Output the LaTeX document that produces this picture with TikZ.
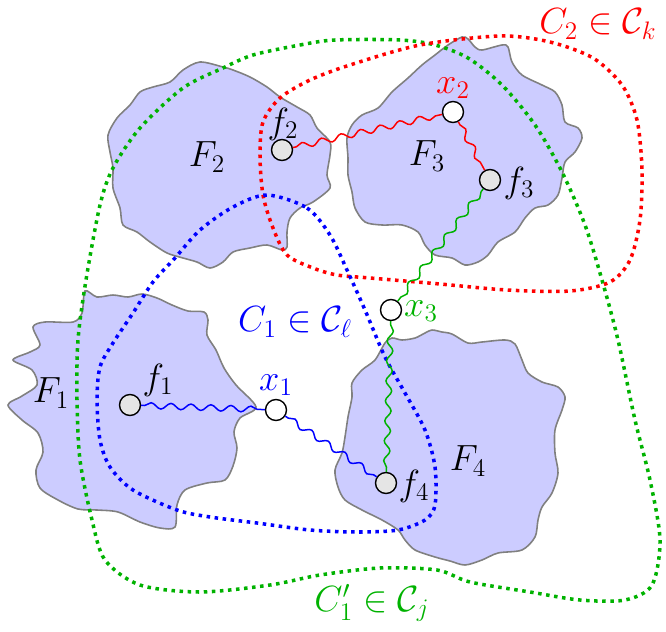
\documentclass[tikz,border=0pt]{standalone}
\usetikzlibrary{decorations.pathmorphing}
\definecolor{blobfill}{RGB}{204,204,255}
\definecolor{dgreen}{RGB}{0,178,0}
\begin{document}
\begin{tikzpicture}[x=0.02cm,y=-0.02cm,
  blob/.style={draw=black!50,fill=blobfill,line width=0.9pt},
  cdot/.style={line width=2pt,dash pattern=on 2pt off 2.6pt},
  wave/.style={line width=0.85pt,decorate,decoration={snake,amplitude=0.06cm,segment length=0.4cm,pre length=2pt,post length=2pt}},
  fnode/.style={circle,draw,line width=0.8pt,fill=black!10,minimum size=0.42cm,inner sep=0pt},
  xnode/.style={circle,draw,line width=0.8pt,fill=white,minimum size=0.42cm,inner sep=0pt},
  lab/.style={font=\huge}]
\useasboundingbox (0,0) rectangle (666,632);

\draw[blob] plot[smooth cycle] coordinates {(85,291) (97,297) (113,295) (128,297) (142,294) (157,298) (172,305) (188,311) (204,312) (208,320) (207,335) (216,350) (224,368) (236,385) (256,407) (240,418) (234,432) (237,448) (233,466) (225,480) (207,483) (185,490) (177,505) (175,527) (160,528) (140,522) (118,512) (97,510) (78,509) (58,500) (40,488) (36,470) (43,452) (38,433) (22,420) (8,405) (22,396) (37,385) (32,370) (13,360) (30,352) (40,345) (33,327) (45,322) (73,322) (82,313)};
\draw[blob] plot[smooth cycle] coordinates {(200,62) (223,67) (233,70) (250,77) (267,87) (280,97) (297,107) (310,115) (317,128) (330,142) (330,155) (327,175) (330,188) (313,202) (300,208) (290,218) (287,232) (287,247) (282,250) (267,245) (250,248) (233,252) (223,262) (210,268) (197,262) (183,258) (167,253) (150,242) (137,232) (123,225) (120,208) (113,188) (113,168) (110,152) (108,135) (117,118) (130,105) (140,92) (153,87) (170,82) (183,70)};
\draw[blob] plot[smooth cycle] coordinates {(462,37) (468,39) (475,47) (482,50) (502,45) (508,47) (512,62) (522,75) (542,85) (555,92) (562,105) (565,122) (578,128) (582,138) (575,152) (565,162) (562,178) (558,195) (548,205) (535,208) (525,218) (515,232) (498,242) (488,255) (478,262) (465,265) (452,258) (435,255) (425,245) (418,232) (402,225) (382,225) (365,222) (355,208) (352,192) (348,175) (348,158) (347,138) (352,125) (362,115) (378,108) (392,92) (408,78) (422,65) (435,55) (448,45)};
\draw[blob] plot[smooth cycle] coordinates {(432,330) (442,332) (452,334) (468,343) (482,342) (505,340) (515,344) (522,360) (528,373) (542,382) (558,387) (565,397) (562,410) (555,430) (555,453) (558,473) (552,493) (542,507) (538,520) (535,537) (522,550) (498,553) (482,560) (465,565) (450,561) (435,557) (415,550) (405,540) (398,530) (382,520) (362,510) (345,500) (338,487) (335,470) (342,453) (345,437) (348,417) (352,397) (352,383) (362,370) (375,360) (385,343) (392,338) (402,340) (415,338) (425,333)};

\draw[cdot,dgreen] plot[smooth cycle] coordinates {(253,55) (300,45) (335,40) (400,40) (435,45) (468,58) (502,85) (535,125) (562,172) (585,225) (602,280) (618,340) (635,420) (650,480) (660,540) (652,585) (625,600) (580,600) (530,592) (470,582) (437,570) (380,568) (320,575) (270,585) (200,592) (140,585) (105,560) (92,520) (80,460) (77,400) (78,340) (86,280) (100,205) (113,168) (140,128) (183,88) (223,68)};
\draw[cdot,red] plot[smooth cycle] coordinates {(500,36) (550,42) (593,58) (622,85) (637,120) (642,170) (640,220) (630,260) (610,282) (570,291) (507,290) (440,284) (370,278) (337,275) (313,268) (287,255) (273,228) (263,195) (260,155) (263,122) (280,98) (310,80) (350,65) (420,45)};
\draw[cdot,blue] plot[smooth cycle] coordinates {(267,195) (307,208) (330,235) (347,270) (365,310) (385,357) (405,393) (425,430) (435,467) (435,505) (425,520) (398,530) (358,532) (310,530) (257,523) (210,517) (177,510) (133,490) (110,467) (100,440) (97,400) (100,367) (113,343) (133,313) (153,282) (175,258) (200,230) (233,207)};

\node[fnode] (f1) at (130,405) {};
\node[xnode] (x1) at (276,410) {};
\node[fnode] (f2) at (282,150) {};
\node[xnode] (x2) at (453,112) {};
\node[fnode] (f3) at (490,180) {};
\node[xnode] (x3) at (391,310) {};
\node[fnode] (f4) at (386,483) {};

\draw[wave,blue] (f1) -- (x1);
\draw[wave,blue] (x1) -- (f4);
\draw[wave,red] (f2) -- (x2);
\draw[wave,red] (x2) -- (f3);
\draw[wave,dgreen] (f3) -- (x3);
\draw[wave,dgreen] (x3) -- (f4);

\node[lab] (F1) at (51,393) {$F_1$};
\node[lab] (F2) at (207,157) {$F_2$};
\node[lab] (F3) at (427,156) {$F_3$};
\node[lab] (F4) at (468,461) {$F_4$};
\node[lab] (lf1) at (158,380) {$f_1$};
\node[lab,blue] (lx1) at (276,385) {$x_1$};
\node[lab] (lf2) at (283,124) {$f_2$};
\node[lab,red] (lx2) at (453,88) {$x_2$};
\node[lab] (lf3) at (519,183) {$f_3$};
\node[lab,dgreen] (lx3) at (421,311) {$x_3$};
\node[lab] (lf4) at (414,486) {$f_4$};
\node[lab,blue] (c1) at (295,322) {$C_1\in\mathcal{C}_\ell$};
\node[lab,red] (c2) at (598,24) {$C_2\in\mathcal{C}_k$};
\node[lab,dgreen] (c1p) at (372,603) {$C'_1\in\mathcal{C}_j$};
\end{tikzpicture}
\end{document}
